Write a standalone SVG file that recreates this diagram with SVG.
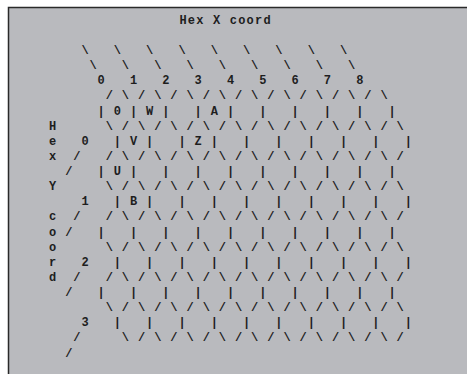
<svg xmlns="http://www.w3.org/2000/svg" width="469" height="374" viewBox="0 0 469 374">
<style>
.t{font-family:"Liberation Mono","DejaVu Sans Mono",monospace;font-size:12px;font-weight:bold;fill:#1e1e1e;letter-spacing:0.88px;white-space:pre}
</style>
<rect x="0" y="0" width="469" height="374" fill="#ffffff"/>
<rect x="8" y="7" width="459" height="367" fill="#b9babe"/>
<path d="M8.5 374 V7.5 H467" fill="none" stroke="#2a2a2a" stroke-width="1.5"/>
<g id="title">
<text class="t" x="179.4" y="23.7" style="letter-spacing:1.2px">Hex X coord</text>
</g>
<g id="grid">
<text class="t" xml:space="preserve" x="49.1" y="54">    \   \   \   \   \   \   \   \   \</text>
<text class="t" xml:space="preserve" x="49.1" y="69.13">     \   \   \   \   \   \   \   \   \</text>
<text class="t" xml:space="preserve" x="49.1" y="84.26">      0   1   2   3   4   5   6   7   8</text>
<text class="t" xml:space="preserve" x="49.1" y="99.39">       / \ / \ / \ / \ / \ / \ / \ / \ / \</text>
<text class="t" xml:space="preserve" x="49.1" y="114.52">      | 0 | W |   | A |   |   |   |   |   |</text>
<text class="t" xml:space="preserve" x="49.1" y="129.65">H      \ / \ / \ / \ / \ / \ / \ / \ / \ / \</text>
<text class="t" xml:space="preserve" x="49.1" y="144.78">e   0   | V |   | Z |   |   |   |   |   |   |</text>
<text class="t" xml:space="preserve" x="49.1" y="159.91">x  /   / \ / \ / \ / \ / \ / \ / \ / \ / \ /</text>
<text class="t" xml:space="preserve" x="49.1" y="175.04">  /   | U |   |   |   |   |   |   |   |   |</text>
<text class="t" xml:space="preserve" x="49.1" y="190.17">Y      \ / \ / \ / \ / \ / \ / \ / \ / \ / \</text>
<text class="t" xml:space="preserve" x="49.1" y="205.3">    1   | B |   |   |   |   |   |   |   |   |</text>
<text class="t" xml:space="preserve" x="49.1" y="220.43">c  /   / \ / \ / \ / \ / \ / \ / \ / \ / \ /</text>
<text class="t" xml:space="preserve" x="49.1" y="235.56">o /   |   |   |   |   |   |   |   |   |   |</text>
<text class="t" xml:space="preserve" x="49.1" y="250.69">o      \ / \ / \ / \ / \ / \ / \ / \ / \ / \</text>
<text class="t" xml:space="preserve" x="49.1" y="265.82">r   2   |   |   |   |   |   |   |   |   |   |</text>
<text class="t" xml:space="preserve" x="49.1" y="280.95">d  /   / \ / \ / \ / \ / \ / \ / \ / \ / \ /</text>
<text class="t" xml:space="preserve" x="49.1" y="296.08">  /   |   |   |   |   |   |   |   |   |   |</text>
<text class="t" xml:space="preserve" x="49.1" y="311.21">       \ / \ / \ / \ / \ / \ / \ / \ / \ / \</text>
<text class="t" xml:space="preserve" x="49.1" y="326.34">    3   |   |   |   |   |   |   |   |   |   |</text>
<text class="t" xml:space="preserve" x="49.1" y="341.47">   /     \ / \ / \ / \ / \ / \ / \ / \ / \ /</text>
<text class="t" xml:space="preserve" x="49.1" y="356.6">  /</text>
</g>
</svg>
